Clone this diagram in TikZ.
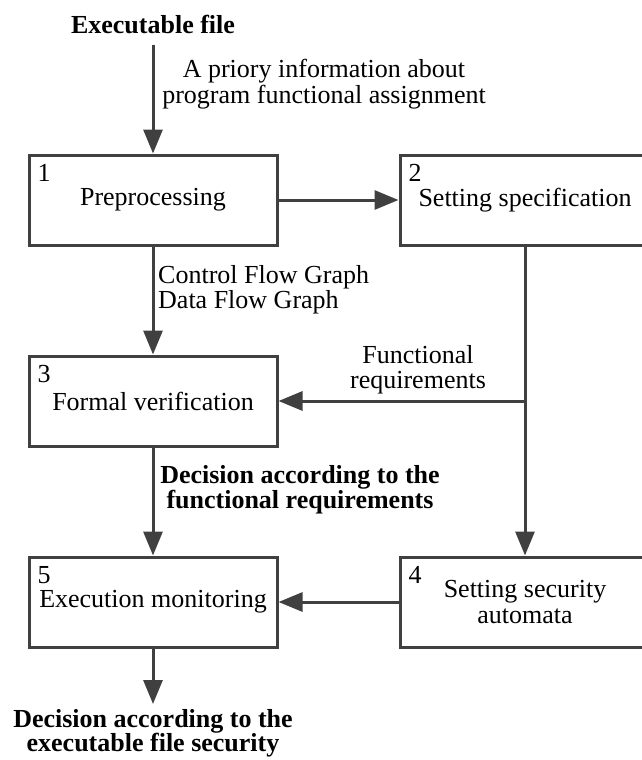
\documentclass[tikz,border=0pt]{standalone}
\usepackage{fontspec}
\setmainfont{Liberation Serif}
\usetikzlibrary{arrows.meta}
\definecolor{linegray}{HTML}{404040}
\begin{document}
\begin{tikzpicture}[x=1pt,y=1pt,
  every node/.style={font=\fontsize{26}{25.5}\selectfont, inner sep=0pt},
  blk/.style={draw=linegray, line width=3pt, minimum width=248pt, minimum height=90pt, align=center},
  num/.style={anchor=north west},
  conn/.style={draw=linegray, line width=3pt, -{Triangle[length=24pt,width=19pt]}},
  lbl/.style={align=center},
  lbll/.style={align=left, anchor=west}]
\useasboundingbox (0,0) rectangle (642,-760);
% boxes
\node[blk] (b1) at (153,-200) {Preprocessing};
\node[blk, minimum width=250pt] (b2) at (525,-200) {Setting specification};
\node[blk] (b3) at (153,-401) {Formal verification};
\node[blk] (b5) at (153,-602) {Execution monitoring};
\node[blk, minimum width=250pt] (b4) at (525,-602) {Setting security\\automata};
% numbers
\node[num] (n1) at ([xshift=10pt,yshift=-11pt]b1.north west) {1};
\node[num] (n2) at ([xshift=10pt,yshift=-11pt]b2.north west) {2};
\node[num] (n3) at ([xshift=10pt,yshift=-11pt]b3.north west) {3};
\node[num] (n5) at ([xshift=10pt,yshift=-11pt]b5.north west) {5};
\node[num] (n4) at ([xshift=10pt,yshift=-11pt]b4.north west) {4};
% texts
\node[font=\fontsize{26}{25.5}\selectfont\bfseries] (exe) at (153,-25) {Executable file};
\node[lbl] (apr) at (324,-84) {A priory information about\\program functional assignment};
\node[lbll] (cfg) at (158,-289.5) {Control Flow Graph\\Data Flow Graph};
\node[lbl] (fr) at (418,-369.5) {Functional\\requirements};
\node[lbl, font=\fontsize{26}{25.5}\selectfont\bfseries] (d1) at (300,-489.5) {Decision according to the\\functional requirements};
\node[lbl, font=\fontsize{26}{24.5}\selectfont\bfseries, anchor=north] (d2) at (153,-709) {Decision according to the\\executable file security};
% connectors
\draw[conn, shorten <=10pt] (exe.south) -- (b1.north);
\draw[conn] (b1.east) -- (b2.west);
\draw[conn] (b1.south) -- (b3.north);
\draw[conn] (b3.south) -- (b5.north);
\draw[conn] (b2.south) -- (b4.north);
\coordinate (j) at (b2.south |- b3.east);
\draw[conn] (j) -- (b3.east);
\draw[conn] (b4.west) -- (b5.east);
\draw[conn, shorten >=5pt] (b5.south) -- (d2.north);
\end{tikzpicture}
\end{document}
